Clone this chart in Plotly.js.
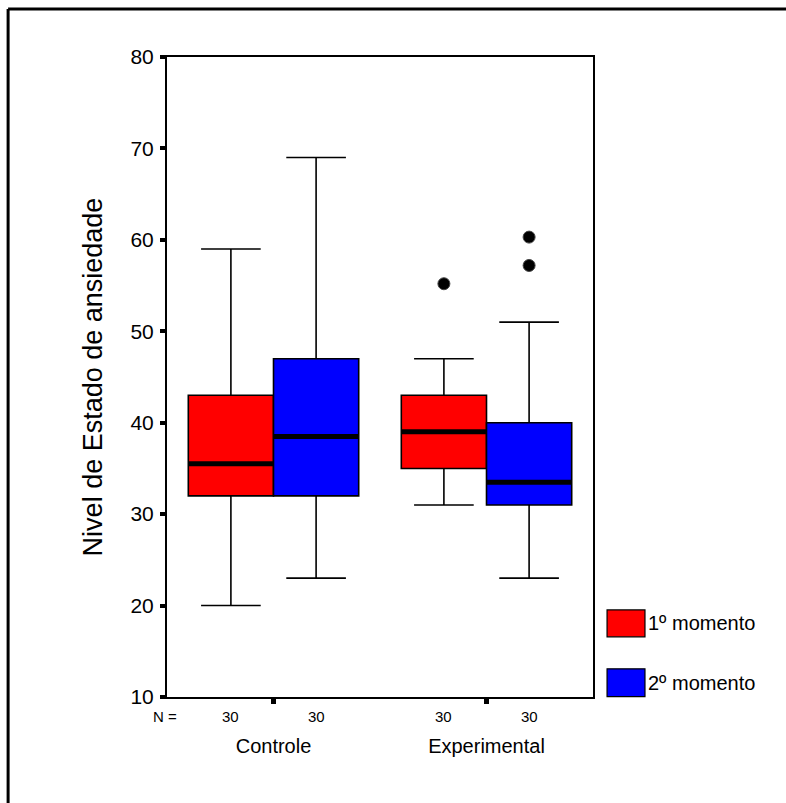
<!DOCTYPE html>
<html>
<head>
<meta charset="utf-8">
<script src="https://cdn.plot.ly/plotly-3.0.1.min.js"></script>
<style>html,body{margin:0;padding:0;background:#fff;}#chart{width:786px;height:803px;}</style>
</head>
<body>
<div id="chart"></div>
<script>
// ---- data ----
const categories = ["Controle", "Experimental"];
const moments = ["1º momento", "2º momento"];
const colors = ["#ff0000", "#0000ff"];
// per moment, per category
const lowerWhisker = [[20, 31], [23, 23]];
const q1Values     = [[32, 35], [32, 31]];
const medianValues = [[35.5, 39], [38.5, 33.5]];
const q3Values     = [[43, 43], [47, 40]];
const upperWhisker = [[59, 47], [69, 51]];
const outlierValues = [[[], [55.2]], [[], [60.3, 57.2]]];
const nValues = [[30, 30], [30, 30]];
const yTicks = [10, 20, 30, 40, 50, 60, 70, 80];

const offset = 0.2, boxW = 0.4;
const font = "Arial, 'Liberation Sans', sans-serif";
const catPos = categories.map((c, i) => i + 1);

const traces = [];
moments.forEach((m, k) => {
  const dx = k === 0 ? -offset : offset;
  const xs = catPos.map(p => p + dx);
  traces.push({
    type: "box", name: m, x: xs,
    q1: q1Values[k], median: medianValues[k], q3: q3Values[k],
    lowerfence: lowerWhisker[k], upperfence: upperWhisker[k],
    width: boxW, whiskerwidth: 0.7,
    fillcolor: colors[k], line: {color: "#000", width: 1.6},
    boxpoints: false, hoverinfo: "skip", showlegend: false
  });
});
// thick median lines
moments.forEach((m, k) => {
  const dx = k === 0 ? -offset : offset;
  const mx = [], my = [];
  catPos.forEach((p, i) => {
    mx.push(p + dx - boxW / 2, p + dx + boxW / 2, null);
    my.push(medianValues[k][i], medianValues[k][i], null);
  });
  traces.push({type: "scatter", mode: "lines", x: mx, y: my,
    line: {color: "#000", width: 5}, showlegend: false, hoverinfo: "skip"});
});
// outliers
moments.forEach((m, k) => {
  const dx = k === 0 ? -offset : offset;
  const ox = [], oy = [];
  catPos.forEach((p, i) => {
    outlierValues[k][i].forEach(v => { ox.push(p + dx); oy.push(v); });
  });
  traces.push({type: "scatter", mode: "markers", x: ox, y: oy,
    marker: {color: "#000", size: 12, line: {color: "#444", width: 1}},
    showlegend: false, hoverinfo: "skip"});
});

const annotations = [];
annotations.push({xref: "paper", yref: "paper", x: -0.005, y: -0.031, text: "N =",
  showarrow: false, xanchor: "center", yanchor: "middle", font: {family: font, size: 15, color: "#000"}});
moments.forEach((m, k) => {
  const dx = k === 0 ? -offset : offset;
  catPos.forEach((p, i) => {
    annotations.push({xref: "x", yref: "paper", x: p + dx, y: -0.031, text: String(nValues[k][i]),
      showarrow: false, xanchor: "center", yanchor: "middle", font: {family: font, size: 15, color: "#000"}});
  });
});
// legend
const shapes = [];
const legY = [[0.094, 0.136], [0.0005, 0.044]];
moments.forEach((m, k) => {
  shapes.push({type: "rect", xref: "paper", yref: "paper", x0: 1.033, x1: 1.122,
    y0: legY[k][0], y1: legY[k][1], fillcolor: colors[k], line: {color: "#000", width: 1.2}});
  annotations.push({xref: "paper", yref: "paper", x: 1.124, y: (legY[k][0] + legY[k][1]) / 2,
    text: m, showarrow: false, xanchor: "left", yanchor: "middle", font: {family: font, size: 20, color: "#000"}});
});
// outer frame
shapes.push({type: "line", xref: "paper", yref: "paper", x0: -0.373, x1: -0.373, y0: -0.3, y1: 1.075, line: {color: "#000", width: 3}});
shapes.push({type: "line", xref: "paper", yref: "paper", x0: -0.373, x1: 1.6, y0: 1.075, y1: 1.075, line: {color: "#000", width: 3}});

const layout = {
  width: 786, height: 803,
  margin: {l: 167, r: 193, t: 57, b: 106, pad: 0},
  paper_bgcolor: "#fff", plot_bgcolor: "#fff",
  showlegend: false,
  xaxis: {
    range: [0.5, 2.5], tickvals: catPos, ticktext: categories,
    showline: true, mirror: true, linecolor: "#000", linewidth: 2,
    ticks: "outside", ticklen: 5, tickwidth: 5, tickcolor: "#000",
    showgrid: false, zeroline: false, ticklabelstandoff: 25,
    tickfont: {family: font, size: 20, color: "#000"}
  },
  yaxis: {
    range: [10, 80], tickvals: yTicks,
    showline: true, mirror: true, linecolor: "#000", linewidth: 2,
    ticks: "outside", ticklen: 5, tickwidth: 4, tickcolor: "#000",
    showgrid: false, zeroline: false, ticklabelstandoff: 2,
    tickfont: {family: font, size: 21, color: "#000"},
    title: {text: "Nivel de Estado de ansiedade", standoff: 20, font: {family: font, size: 27, color: "#000"}}
  },
  annotations: annotations, shapes: shapes
};
Plotly.newPlot("chart", traces, layout, {staticPlot: true});
</script>
</body>
</html>
